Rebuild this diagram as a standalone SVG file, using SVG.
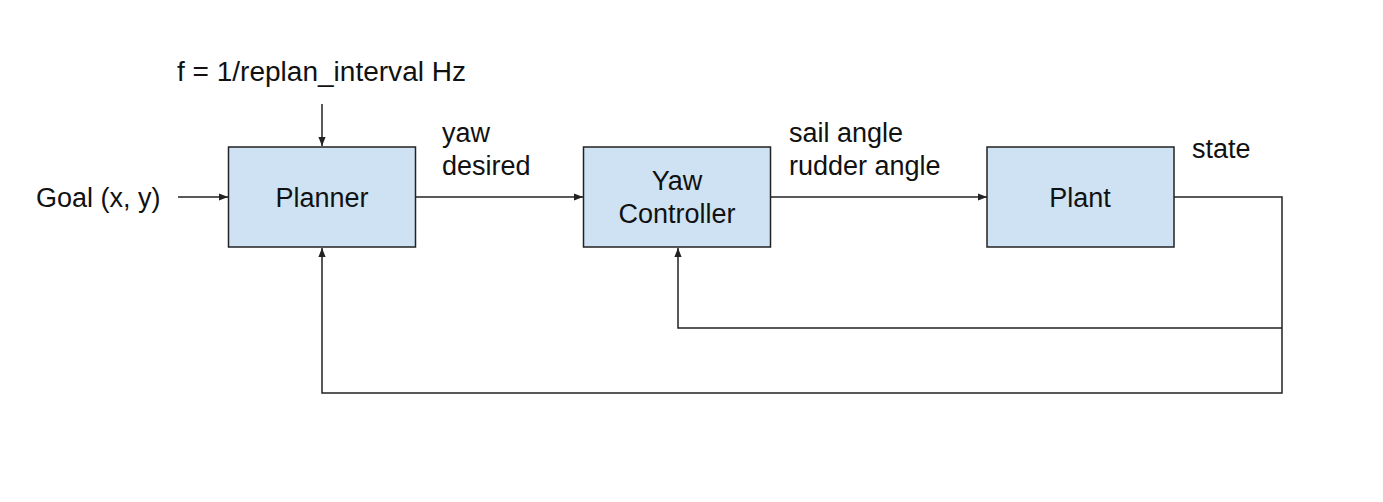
<svg xmlns="http://www.w3.org/2000/svg" width="1383" height="502" viewBox="0 0 1383 502">
<defs>
<style>
text{font-family:"Liberation Sans",Arial,Helvetica,sans-serif;font-size:27px;fill:#111}
.box{fill:#cfe2f3;stroke:#222;stroke-width:1.5}
.c{text-anchor:middle}
.ln{fill:none;stroke:#222;stroke-width:1.5}
</style>
<marker id="ah" viewBox="0 0 10 10" refX="10" refY="5" markerWidth="9" markerHeight="9" markerUnits="userSpaceOnUse" orient="auto">
<path d="M0,1 L10,5 L0,9 z" fill="#222"/>
</marker>
</defs>
<rect width="1383" height="502" fill="#fff"/>
<g id="connectors">
<line class="ln" x1="322" y1="104" x2="322" y2="146" marker-end="url(#ah)"/>
<line class="ln" x1="178" y1="197" x2="228" y2="197" marker-end="url(#ah)"/>
<line class="ln" x1="416" y1="197" x2="583" y2="197" marker-end="url(#ah)"/>
<line class="ln" x1="771" y1="197" x2="987" y2="197" marker-end="url(#ah)"/>
<polyline class="ln" points="1174,197 1282,197 1282,393 322,393 322,248" marker-end="url(#ah)"/>
<polyline class="ln" points="1282,328 678,328 678,248" marker-end="url(#ah)"/>
</g>
<g id="planner">
<rect class="box" x="228.5" y="147" width="187" height="100"/>
<text class="c" x="322" y="207">Planner</text>
</g>
<g id="yaw-controller">
<rect class="box" x="583.5" y="147" width="187" height="100"/>
<text class="c" x="677" y="190">Yaw</text>
<text class="c" x="677" y="223">Controller</text>
</g>
<g id="plant">
<rect class="box" x="987" y="147" width="187" height="100"/>
<text class="c" x="1080" y="207">Plant</text>
</g>
<g id="labels">
<text x="177" y="81" textLength="289" lengthAdjust="spacingAndGlyphs">f = 1/replan_interval Hz</text>
<text x="36" y="207">Goal (x, y)</text>
<text x="442" y="142">yaw</text>
<text x="442" y="175">desired</text>
<text x="789" y="142">sail angle</text>
<text x="789" y="175">rudder angle</text>
<text x="1192" y="158">state</text>
</g>
</svg>
